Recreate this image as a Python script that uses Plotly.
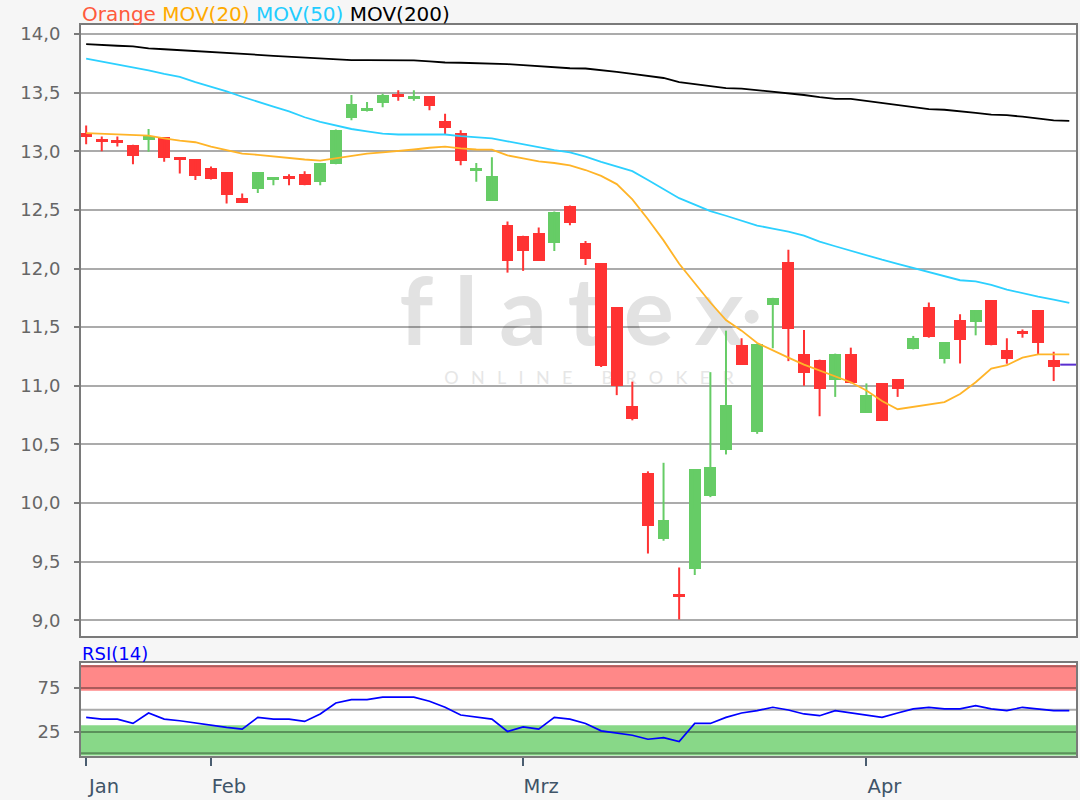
import base64
import plotly.graph_objects as go

# ---------------- data ----------------
dates = [
    "2020-01-22", "2020-01-23", "2020-01-24", "2020-01-27", "2020-01-28", "2020-01-29", "2020-01-30", "2020-01-31",
    "2020-02-03", "2020-02-04", "2020-02-05", "2020-02-06", "2020-02-07", "2020-02-10", "2020-02-11", "2020-02-12",
    "2020-02-13", "2020-02-14", "2020-02-17", "2020-02-18", "2020-02-19", "2020-02-20", "2020-02-21", "2020-02-24",
    "2020-02-25", "2020-02-26", "2020-02-27", "2020-02-28", "2020-03-02", "2020-03-03", "2020-03-04", "2020-03-05",
    "2020-03-06", "2020-03-09", "2020-03-10", "2020-03-11", "2020-03-12", "2020-03-13", "2020-03-16", "2020-03-17",
    "2020-03-18", "2020-03-19", "2020-03-20", "2020-03-23", "2020-03-24", "2020-03-25", "2020-03-26", "2020-03-27",
    "2020-03-30", "2020-03-31", "2020-04-01", "2020-04-02", "2020-04-03", "2020-04-06", "2020-04-07", "2020-04-08",
    "2020-04-09", "2020-04-14", "2020-04-15", "2020-04-16", "2020-04-17", "2020-04-20", "2020-04-21", "2020-04-22",
]

opens = [13.158, 13.10, 13.09, 13.055, 13.10, 13.12, 12.95, 12.935, 12.855, 12.82,
         12.60, 12.675, 12.76, 12.785, 12.805, 12.74, 12.895, 13.28, 13.34, 13.41,
         13.49, 13.45, 13.47, 13.26, 13.16, 12.835, 12.58, 12.37, 12.28, 12.30,
         12.22, 12.537, 12.215, 12.045, 11.67, 10.83, 10.257, 9.694, 9.22, 9.437,
         10.057, 10.449, 11.35, 10.608, 11.69, 12.055, 11.274, 11.223, 11.05, 11.274,
         10.77, 11.02, 11.055, 11.31, 11.675, 11.225, 11.557, 11.547, 11.73, 11.302,
         11.46, 11.645, 11.218]
highs = [13.22, 13.125, 13.125, 13.055, 13.19, 13.12, 12.95, 12.935, 12.87, 12.82,
         12.64, 12.82, 12.78, 12.805, 12.83, 12.90, 13.185, 13.48, 13.42, 13.49,
         13.52, 13.52, 13.47, 13.32, 13.18, 12.90, 12.95, 12.40, 12.28, 12.35,
         12.486, 12.537, 12.235, 12.045, 11.67, 11.035, 10.27, 10.343, 9.45, 10.29,
         11.116, 11.47, 11.405, 11.36, 11.75, 12.16, 11.475, 11.223, 11.274, 11.325,
         11.02, 11.02, 11.055, 11.425, 11.71, 11.37, 11.61, 11.642, 11.73, 11.405,
         11.48, 11.645, 11.29]
lows = [13.06, 13.0, 13.04, 12.89, 12.995, 12.91, 12.81, 12.755, 12.76, 12.555,
        12.56, 12.645, 12.71, 12.71, 12.71, 12.71, 12.89, 13.265, 13.34, 13.375,
        13.43, 13.43, 13.35, 13.145, 12.88, 12.74, 12.58, 11.965, 11.98, 12.065,
        12.15, 12.37, 12.03, 11.16, 10.92, 10.705, 9.57, 9.677, 9.006, 9.386,
        10.05, 10.414, 11.18, 10.59, 11.32, 11.21, 11.0, 10.74, 10.905, 11.02,
        10.77, 10.70, 10.905, 11.31, 11.41, 11.19, 11.19, 11.43, 11.345, 11.188,
        11.41, 11.27, 11.04]
closes = [13.125, 13.08, 13.075, 12.96, 13.13, 12.945, 12.93, 12.79, 12.76, 12.625,
          12.56, 12.82, 12.78, 12.77, 12.71, 12.90, 13.185, 13.40, 13.365, 13.477,
          13.46, 13.47, 13.39, 13.20, 12.92, 12.85, 12.79, 12.065, 12.15, 12.065,
          12.486, 12.386, 12.08, 11.165, 10.995, 10.72, 9.80, 9.857, 9.206, 10.29,
          10.306, 10.834, 11.18, 11.36, 11.745, 11.48, 11.105, 10.97, 11.274, 11.02,
          10.92, 10.70, 10.97, 11.407, 11.42, 11.372, 11.394, 11.642, 11.345, 11.226,
          11.452, 11.363, 11.158]
last_price = 11.18

ma20 = [13.154, 13.15, 13.145, 13.14, 13.133, 13.11, 13.09, 13.077, 13.04, 13.01,
        12.98, 12.97, 12.955, 12.94, 12.93, 12.92, 12.94, 12.965, 12.98, 12.99,
        13.0, 13.015, 13.03, 13.04, 13.025, 13.015, 13.014, 12.965, 12.94, 12.913,
        12.90, 12.88, 12.84, 12.79, 12.72, 12.59, 12.42, 12.24, 12.04, 11.87,
        11.71, 11.56, 11.47, 11.365, 11.30, 11.24, 11.18, 11.13, 11.08, 11.03,
        10.96, 10.87, 10.80, 10.82, 10.84, 10.86, 10.93, 11.03, 11.147, 11.175,
        11.24, 11.267, 11.267, 11.267]
ma50 = [13.79, 13.765, 13.743, 13.72, 13.69, 13.66, 13.634, 13.59, 13.553, 13.51,
        13.465, 13.42, 13.38, 13.34, 13.29, 13.25, 13.22, 13.19, 13.17, 13.15,
        13.143, 13.143, 13.143, 13.143, 13.13, 13.12, 13.11, 13.085, 13.06, 13.03,
        13.01, 12.99, 12.955, 12.91, 12.87, 12.83, 12.755, 12.68, 12.60, 12.545,
        12.49, 12.45, 12.41, 12.366, 12.34, 12.315, 12.28, 12.23, 12.19, 12.15,
        12.11, 12.075, 12.04, 12.005, 11.97, 11.93, 11.90, 11.89, 11.86, 11.82,
        11.787, 11.76, 11.735, 11.707]
ma200 = [13.914, 13.91, 13.90, 13.895, 13.877, 13.87, 13.863, 13.855, 13.847, 13.84,
         13.831, 13.823, 13.814, 13.806, 13.798, 13.79, 13.782, 13.777, 13.777, 13.777,
         13.777, 13.776, 13.767, 13.757, 13.755, 13.752, 13.749, 13.743, 13.734, 13.724,
         13.714, 13.708, 13.706, 13.695, 13.678, 13.661, 13.645, 13.625, 13.59, 13.572,
         13.555, 13.539, 13.535, 13.522, 13.507, 13.493, 13.48, 13.462, 13.447, 13.447,
         13.43, 13.414, 13.396, 13.376, 13.36, 13.354, 13.344, 13.328, 13.312, 13.308,
         13.295, 13.28, 13.264, 13.26]
rsi = [41.3, 39.3, 39.3, 34.3, 46.3, 39.3, 37.4, 34.7, 32.4, 29.7,
       27.7, 41.3, 39.3, 39.3, 36.6, 45.2, 57.9, 61.8, 61.8, 64.5,
       64.5, 64.5, 59.9, 52.9, 44.0, 41.3, 39.3, 25.0, 30.4, 27.7,
       41.3, 39.3, 34.3, 25.8, 23.0, 20.7, 16.1, 18.0, 13.4, 34.3,
       34.3, 41.3, 46.3, 49.0, 52.9, 49.8, 45.2, 43.2, 49.0, 46.3,
       44.0, 41.3, 46.3, 51.0, 52.9, 51.0, 51.0, 54.8, 51.0, 49.0,
       52.9, 51.0, 49.0, 49.0]

month_ticks = ["2020-01-22", "2020-02-03", "2020-03-02", "2020-04-01"]
month_labels = ["Jan", "Feb", "Mrz", "Apr"]
price_ticks = [9.0, 9.5, 10.0, 10.5, 11.0, 11.5, 12.0, 12.5, 13.0, 13.5, 14.0]
rsi_ticks = [25, 75]
rsi_lines = [0, 50, 100]

# ---------------- styling ----------------
RED = "#ff3333"
GREEN = "#66cc66"
C_MA20 = "#ffb428"
C_MA50 = "#2cd0ff"
C_MA200 = "#000000"
GRID = "rgba(0,0,0,0.33)"
FONT = "DejaVu Sans"

xs = list(range(len(dates)))
n = len(opens)
cx = xs[:n]
is_up = [c >= o for o, c in zip(opens, closes)]
min_body = 0.024
body_base = []
body_h = []
for o, c in zip(opens, closes):
    h = abs(c - o)
    if h < min_body:
        mid = (o + c) / 2
        body_base.append(mid - min_body / 2)
        body_h.append(min_body)
    else:
        body_base.append(min(o, c))
        body_h.append(h)
body_colors = [GREEN if u else RED for u in is_up]

fig = go.Figure()

# watermark (svg image, drawn under grid and traces)
svg = (
    '<svg xmlns="http://www.w3.org/2000/svg" width="420" height="150" viewBox="0 0 420 150">'
    '<text x="20" y="95" font-family="Lato" font-weight="700" font-size="94" fill="#e2e2e2" '
    'style="font-variant-ligatures:none" textLength="345" lengthAdjust="spacing">flatex</text>'
    '<circle cx="373" cy="67" r="7" fill="#e2e2e2"/>'
    '<text x="65" y="134" font-family="Lato" font-size="18" fill="#e6e6e6" '
    'textLength="290" lengthAdjust="spacing">ONLINE BROKER</text>'
    '</svg>'
)
svg_uri = "data:image/svg+xml;base64," + base64.b64encode(svg.encode()).decode()
fig.add_layout_image(dict(source=svg_uri, xref="x", yref="y", x=(380 - 86) / 15.64, y=14.0 - (250 - 34) / 117.4,
                          sizex=420 / 15.64, sizey=150 / 117.4, xanchor="left", yanchor="top",
                          sizing="stretch", layer="below"))

# candle bodies
fig.add_trace(go.Bar(x=cx, y=body_h, base=body_base, width=0.76, marker=dict(color=body_colors, line=dict(width=0)),
                     hoverinfo="skip", showlegend=False, xaxis="x", yaxis="y"))

# wicks
for col, flag in ((GREEN, True), (RED, False)):
    wx, wy = [], []
    for i, u, lo, hi in zip(cx, is_up, lows, highs):
        if u == flag:
            wx += [i, i, i]
            wy += [lo, hi, None]
    fig.add_trace(go.Scatter(x=wx, y=wy, mode="lines", line=dict(color=col, width=2),
                             hoverinfo="skip", showlegend=False, xaxis="x", yaxis="y"))

# moving averages
fig.add_trace(go.Scatter(x=xs, y=ma200, mode="lines", line=dict(color=C_MA200, width=1.8), showlegend=False))
fig.add_trace(go.Scatter(x=xs, y=ma50, mode="lines", line=dict(color=C_MA50, width=1.8), showlegend=False))
fig.add_trace(go.Scatter(x=xs, y=ma20, mode="lines", line=dict(color=C_MA20, width=1.8), showlegend=False))

# last price marker
fig.add_trace(go.Scatter(x=[xs[-1]], y=[last_price], mode="markers",
                         marker=dict(symbol="line-ew", size=13, line=dict(color="#5a2fd0", width=2)),
                         showlegend=False))

# RSI
fig.add_trace(go.Scatter(x=xs, y=rsi, mode="lines", line=dict(color="#0000ff", width=1.7),
                         showlegend=False, xaxis="x2", yaxis="y2"))

shapes = [
    dict(type="rect", xref="x2 domain", yref="y2", x0=0, x1=1, y0=72, y1=101.5,
         fillcolor="#ff8888", line=dict(width=0), layer="below"),
    dict(type="rect", xref="x2 domain", yref="y2", x0=0, x1=1, y0=-2.5, y1=32.3,
         fillcolor="#88d888", line=dict(width=0), layer="below"),
]
for v in rsi_lines:
    shapes.append(dict(type="line", xref="x2 domain", yref="y2", x0=0, x1=1, y0=v, y1=v,
                       line=dict(color=GRID, width=2), layer="below"))

xr = [-0.33, 63.43]
axis_line = dict(showline=True, mirror=True, linecolor="#7a7a7a", linewidth=2)

fig.update_layout(
    width=1080, height=800,
    margin=dict(l=81, r=2, t=25, b=43),
    paper_bgcolor="#f6f6f6", plot_bgcolor="#ffffff",
    separators=",.",
    font=dict(family=FONT, size=18, color="#666666"),
    bargap=0,
    xaxis=dict(domain=[0, 1], anchor="y", range=xr, showticklabels=False, ticks="", showgrid=False,
               zeroline=False, **axis_line),
    yaxis=dict(domain=[0.1639, 1], anchor="x", range=[8.864, 14.077], tickvals=price_ticks, tickformat=".1f",
               ticks="outside", ticklen=5, tickcolor="#7a7a7a", tickwidth=1.5, ticklabelstandoff=10,
               showgrid=True, gridcolor=GRID, gridwidth=2, zeroline=False,
               tickfont=dict(family=FONT, size=18, color="#666666"), **axis_line),
    xaxis2=dict(domain=[0, 1], anchor="y2", range=xr, tickvals=[dates.index(d) for d in month_ticks],
                ticktext=month_labels, ticks="outside", ticklen=8, tickwidth=1.5, tickcolor="#4a5d70",
                ticklabelshift=18, ticklabelstandoff=4, showgrid=False, zeroline=False,
                tickfont=dict(family=FONT, size=19.5, color="#3f5468"), **axis_line),
    yaxis2=dict(domain=[0, 0.127], anchor="x2", range=[-3.2, 103.7], tickvals=rsi_ticks,
                ticks="outside", ticklen=5, tickcolor="#7a7a7a", tickwidth=1.5, ticklabelstandoff=10,
                showgrid=True, gridcolor=GRID, gridwidth=2, zeroline=False,
                tickfont=dict(family=FONT, size=18, color="#666666"), **axis_line),
    shapes=shapes,
    annotations=[
        dict(xref="paper", yref="paper", x=0, y=1, xanchor="left", yanchor="middle", xshift=-1, yshift=11,
             showarrow=False, font=dict(family=FONT, size=20),
             text=('<span style="color:#ff5a3c">Orange</span> '
                   '<span style="color:#ffaa00">MOV(20)</span> '
                   '<span style="color:#22ccff">MOV(50)</span> '
                   '<span style="color:#000000">MOV(200)</span>')),
        dict(xref="paper", yref="paper", x=0, y=0.127, xanchor="left", yanchor="middle", xshift=-1, yshift=10,
             showarrow=False, font=dict(family=FONT, size=18, color="#0000ff"), text="RSI(14)"),
    ],
)

fig.write_html("out.html", config={"displayModeBar": False}, post_script="document.body.style.margin='0';")
